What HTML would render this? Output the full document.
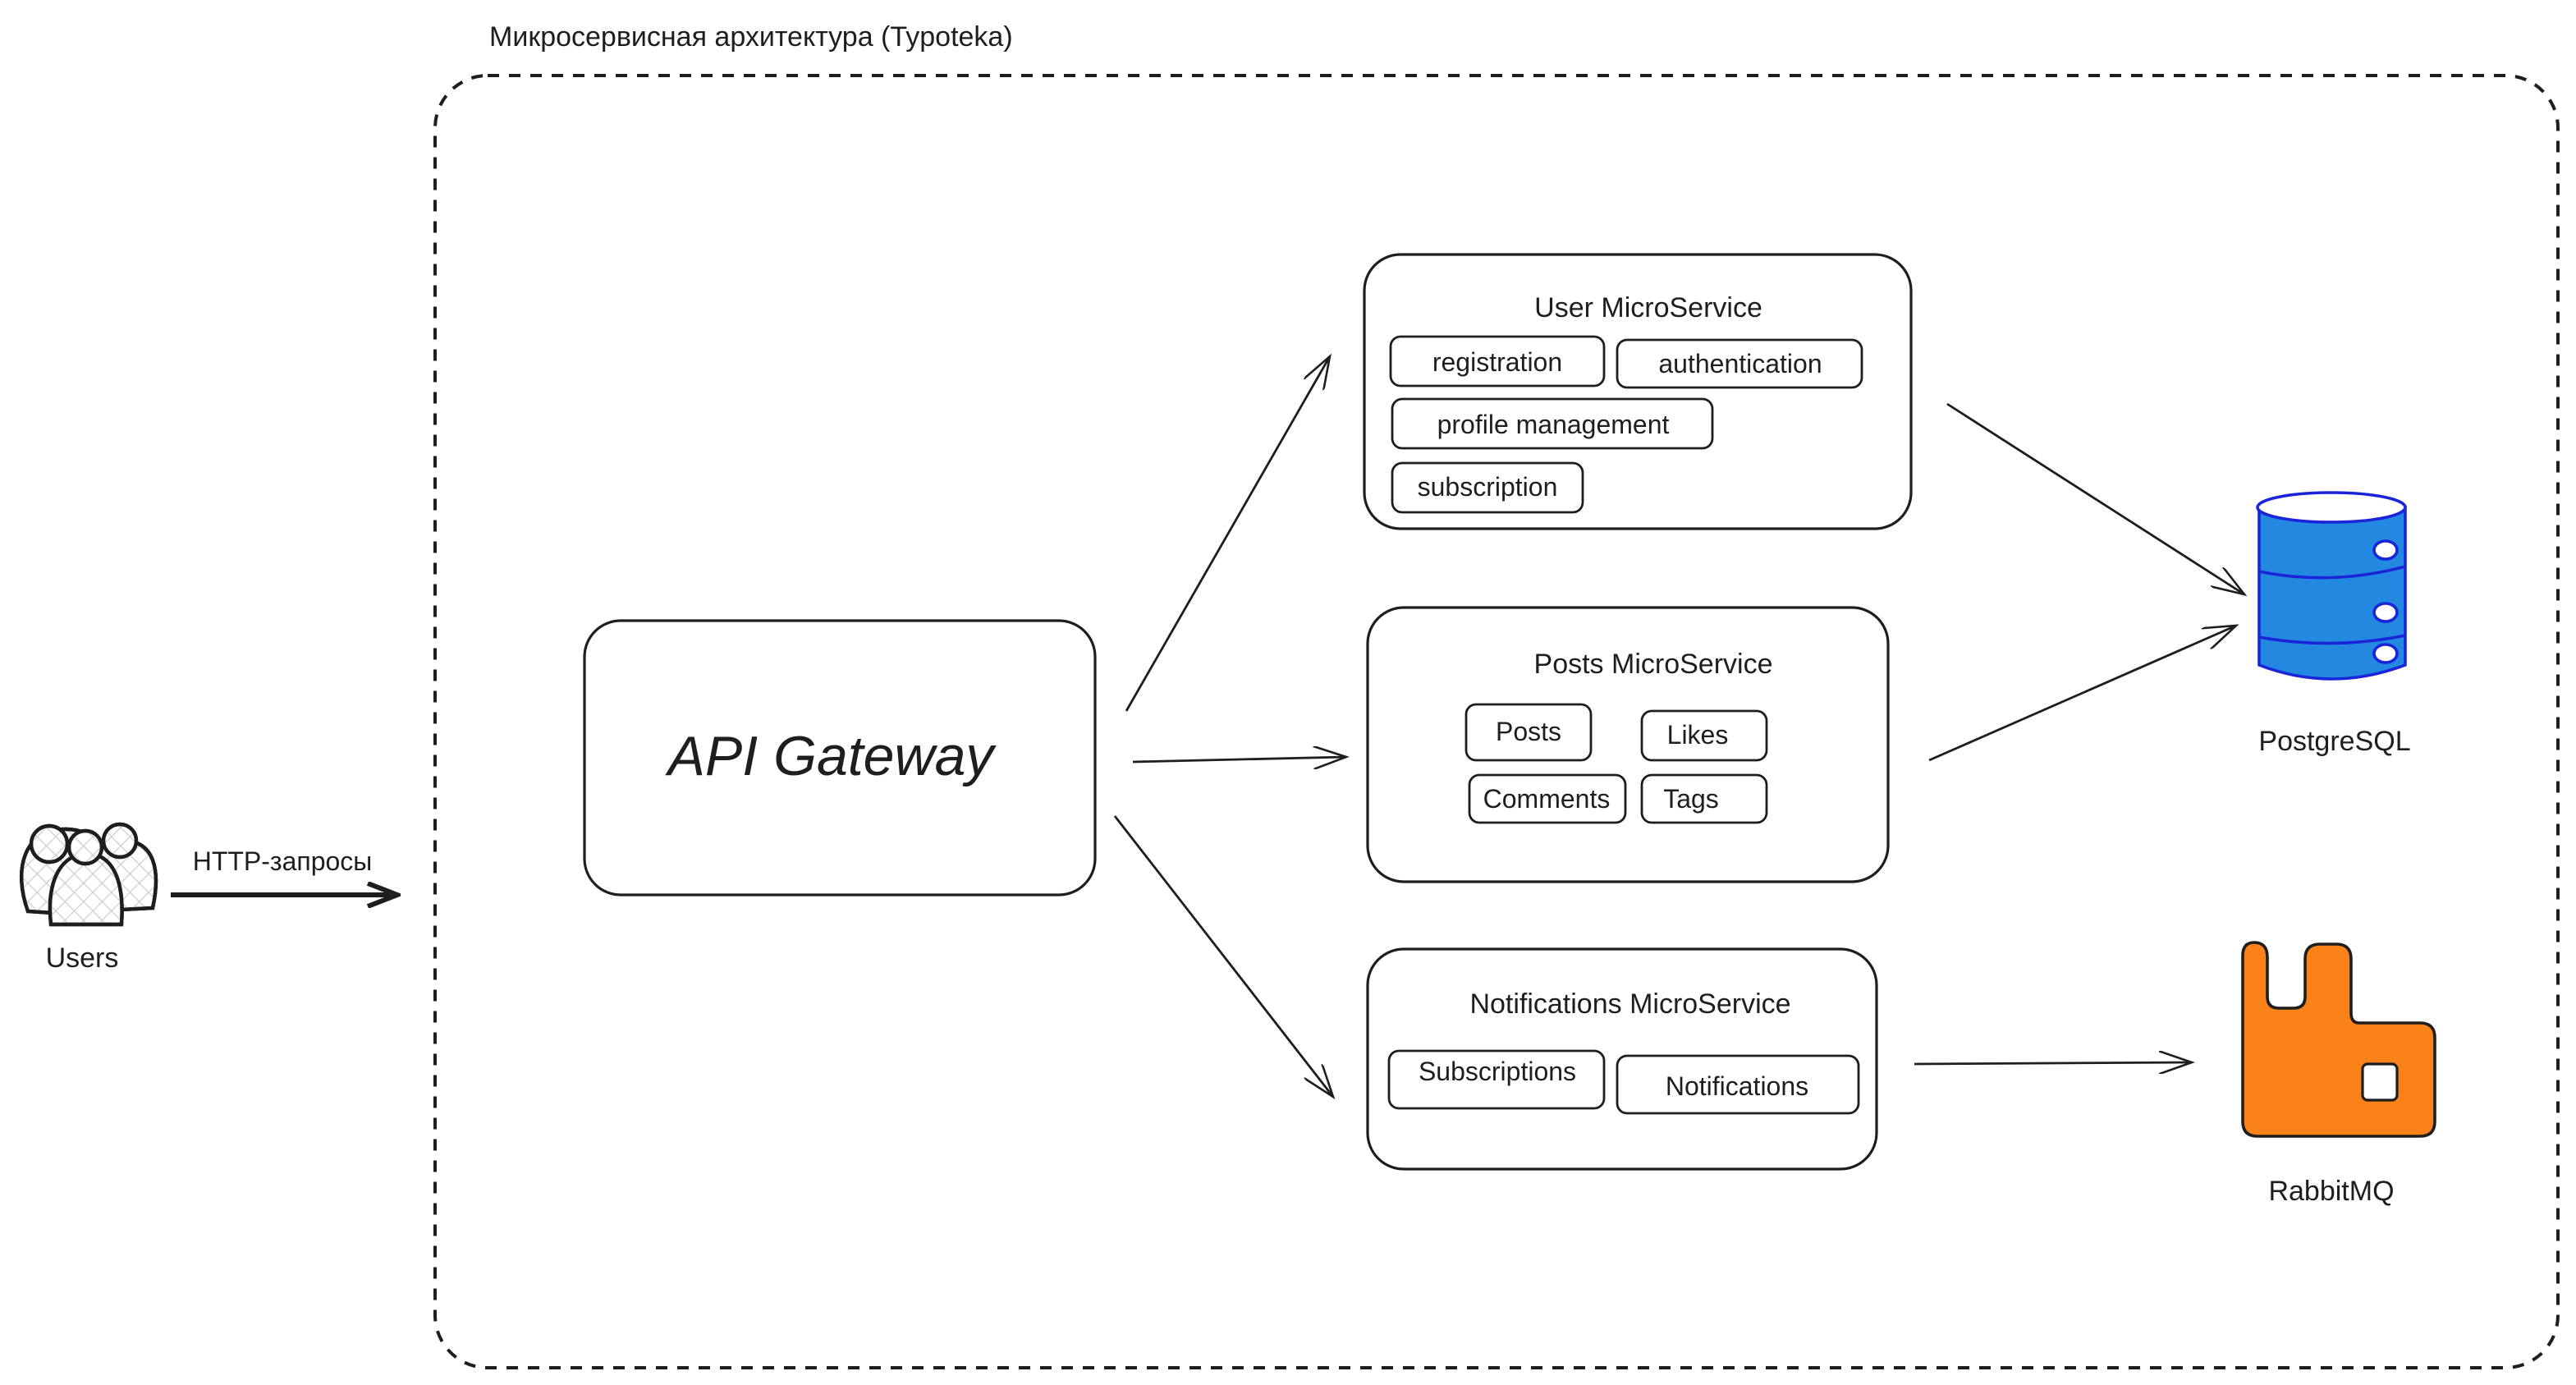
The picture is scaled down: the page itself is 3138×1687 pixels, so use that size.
<!DOCTYPE html>
<html><head><meta charset="utf-8"><style>
html,body{margin:0;padding:0;background:#fff;}
svg{display:block;}
text{font-family:"Liberation Sans","Noto Sans CJK SC",sans-serif;fill:#1e1e1e;}
</style></head><body>
<svg width="3138" height="1687" viewBox="0 0 1569 843.5" xmlns="http://www.w3.org/2000/svg">
<defs>
<pattern id="hatch" width="8" height="8" patternUnits="userSpaceOnUse" patternTransform="rotate(45)">
<line x1="0" y1="0" x2="0" y2="8" stroke="#c8ccd4" stroke-width="1.2"/>
<line x1="0" y1="0" x2="8" y2="0" stroke="#c8ccd4" stroke-width="1.2"/>
</pattern>
<marker id="ah" markerWidth="22" markerHeight="14" refX="20" refY="7" orient="auto" markerUnits="userSpaceOnUse">
<path d="M0,0 L20,7 L0,14" fill="none" stroke="#1e1e1e" stroke-width="1.3"/>
</marker>
<marker id="ah2" markerWidth="22" markerHeight="16" refX="20" refY="8" orient="auto" markerUnits="userSpaceOnUse">
<path d="M2,1 L20,8 L2,15" fill="none" stroke="#1e1e1e" stroke-width="3"/>
</marker>
</defs>
<rect x="0" y="0" width="1569" height="843.5" fill="#fff"/>

<text x="298" y="28" font-size="17">Микросервисная архитектура (Typoteka)</text>
<rect x="265" y="46" width="1293" height="787" rx="32" fill="none" stroke="#1e1e1e" stroke-width="2" stroke-dasharray="7 6"/>

<!-- Users -->
<g stroke="#1e1e1e" stroke-width="2.2" fill="url(#hatch)">
<path d="M17,555 C8,530 14,505 40,505 C65,505 70,530 62,558 Z" fill="#fff"/>
<path d="M17,555 C8,530 14,505 40,505 C65,505 70,530 62,558 Z"/>
<circle cx="30" cy="514" r="11" fill="#fff"/><circle cx="30" cy="514" r="11"/>
<path d="M55,555 C50,530 56,512 75,512 C94,512 98,530 93,553 Z" fill="#fff"/>
<path d="M55,555 C50,530 56,512 75,512 C94,512 98,530 93,553 Z"/>
<circle cx="73" cy="512" r="10" fill="#fff"/><circle cx="73" cy="512" r="10"/>
<path d="M31,563 C28,535 38,520 53,520 C68,520 76,535 74,563 Z" fill="#fff"/>
<path d="M31,563 C28,535 38,520 53,520 C68,520 76,535 74,563 Z"/>
<circle cx="52" cy="516" r="10" fill="#fff"/><circle cx="52" cy="516" r="10"/>
</g>
<text x="50" y="589" font-size="17" text-anchor="middle">Users</text>
<text x="172" y="530" font-size="16" text-anchor="middle">HTTP-запросы</text>
<line x1="104" y1="545" x2="242" y2="545" stroke="#1e1e1e" stroke-width="3" marker-end="url(#ah2)"/>

<!-- API Gateway -->
<rect x="356" y="378" width="311" height="167" rx="22" fill="none" stroke="#1e1e1e" stroke-width="1.6"/>
<text x="506" y="472" font-size="34" font-style="italic" text-anchor="middle">API Gateway</text>

<!-- User MS -->
<rect x="831" y="155" width="333" height="167" rx="22" fill="none" stroke="#1e1e1e" stroke-width="1.6"/>
<text x="1004" y="193" font-size="17" text-anchor="middle">User MicroService</text>
<g fill="none" stroke="#1e1e1e" stroke-width="1.4">
<rect x="847" y="205" width="130" height="30" rx="6"/>
<rect x="985" y="207" width="149" height="29" rx="6"/>
<rect x="848" y="243" width="195" height="30" rx="6"/>
<rect x="848" y="282" width="116" height="30" rx="6"/>
</g>
<g font-size="16" text-anchor="middle">
<text x="912" y="226">registration</text>
<text x="1060" y="227">authentication</text>
<text x="946" y="264">profile management</text>
<text x="906" y="302">subscription</text>
</g>

<!-- Posts MS -->
<rect x="833" y="370" width="317" height="167" rx="22" fill="none" stroke="#1e1e1e" stroke-width="1.6"/>
<text x="1007" y="410" font-size="17" text-anchor="middle">Posts MicroService</text>
<g fill="none" stroke="#1e1e1e" stroke-width="1.4">
<rect x="893" y="429" width="76" height="34" rx="6"/>
<rect x="1000" y="433" width="76" height="30" rx="6"/>
<rect x="895" y="472" width="95" height="29" rx="6"/>
<rect x="1000" y="472" width="76" height="29" rx="6"/>
</g>
<g font-size="16" text-anchor="middle">
<text x="931" y="451">Posts</text>
<text x="1034" y="453">Likes</text>
<text x="942" y="492">Comments</text>
<text x="1030" y="492">Tags</text>
</g>

<!-- Notifications MS -->
<rect x="833" y="578" width="310" height="134" rx="22" fill="none" stroke="#1e1e1e" stroke-width="1.6"/>
<text x="993" y="617" font-size="17" text-anchor="middle">Notifications MicroService</text>
<g fill="none" stroke="#1e1e1e" stroke-width="1.4">
<rect x="846" y="640" width="131" height="35" rx="6"/>
<rect x="985" y="643" width="147" height="35" rx="6"/>
</g>
<g font-size="16" text-anchor="middle">
<text x="912" y="658">Subscriptions</text>
<text x="1058" y="667">Notifications</text>
</g>

<!-- arrows -->
<g stroke="#1e1e1e" stroke-width="1.4" fill="none" marker-end="url(#ah)">
<line x1="686" y1="433" x2="810" y2="217"/>
<line x1="690" y1="464" x2="820" y2="461"/>
<line x1="679" y1="497" x2="812" y2="668"/>
<line x1="1186" y1="246" x2="1367" y2="362"/>
<line x1="1175" y1="463" x2="1362" y2="381"/>
<line x1="1166" y1="648" x2="1335" y2="647"/>
</g>

<!-- PostgreSQL -->
<g stroke="#1a24d8" stroke-width="1.8">
<path d="M1376,309 L1376,405 Q1420,422 1465,405 L1465,309 Z" fill="#2389e0"/>
<ellipse cx="1420" cy="309" rx="45" ry="9" fill="#fff"/>
<path d="M1376,348 Q1420,357 1465,345" fill="none"/>
<path d="M1376,388 Q1420,396 1465,387" fill="none"/>
<ellipse cx="1453" cy="335" rx="7" ry="5.5" fill="#fff"/>
<ellipse cx="1453" cy="373" rx="7" ry="5.5" fill="#fff"/>
<ellipse cx="1453" cy="415" rx="7" ry="5.5" fill="#fff" transform="translate(0,-17)"/>
</g>
<text x="1422" y="457" font-size="17" text-anchor="middle">PostgreSQL</text>

<!-- RabbitMQ -->
<path d="M1373,574 L1373,574 Q1366,574 1366,582 L1366,683 Q1366,692 1375,692 L1474,692 Q1483,692 1483,683 L1483,632 Q1483,623 1474,623 L1437,623 Q1432,623 1432,617 L1432,584 Q1432,575 1423,575 L1413,575 Q1404,575 1404,584 L1404,607 Q1404,614 1397,614 L1388,614 Q1381,614 1381,607 L1381,583 Q1381,574 1373,574 Z" fill="#fb8218" stroke="#1e1e1e" stroke-width="1.8"/>
<rect x="1439" y="648" width="21" height="22" rx="3" fill="#fff" stroke="#1e1e1e" stroke-width="1.6"/>
<text x="1420" y="731" font-size="17" text-anchor="middle">RabbitMQ</text>
</svg>
</body></html>
